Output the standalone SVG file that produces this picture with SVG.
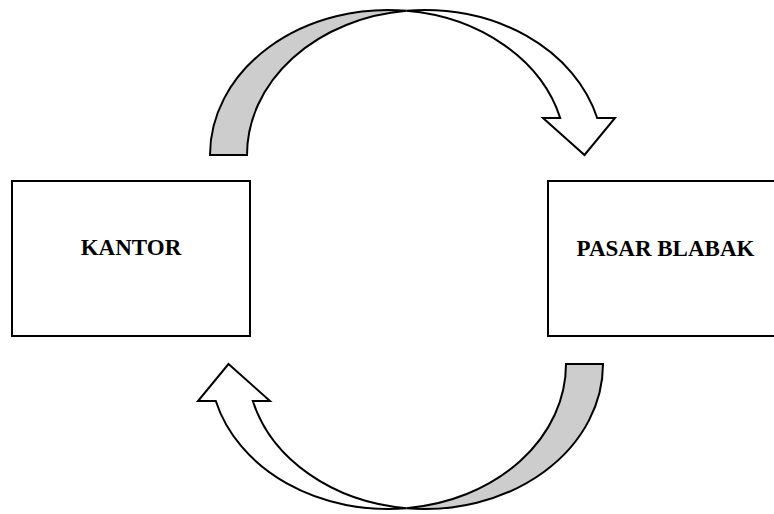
<svg xmlns="http://www.w3.org/2000/svg" xmlns:xlink="http://www.w3.org/1999/xlink" width="774" height="514" viewBox="0 0 774 514">
<style>
.box{fill:#fff;stroke:#000;stroke-width:2}
.lbl{font-family:"Liberation Serif","Times New Roman",serif;font-weight:bold;font-size:23px;fill:#000;text-anchor:middle}
.back{fill:#cdcdcd;stroke:#000;stroke-width:2;stroke-linejoin:miter}
.front{fill:#fff;stroke:#000;stroke-width:2;stroke-linejoin:miter}
</style>
<defs>
<g id="curved">
<path class="back" d="M210,155 A178,145 0 0 1 406.5,10.8 A178,145 0 0 0 247,155 Z"/>
<path class="front" d="M406.5,10.8 A178,145 0 0 1 597.2,118 L615,118 L584.5,155 L543,118 L560.2,118 A178,145 0 0 0 406.5,10.8 Z"/>
</g>
</defs>
<rect width="774" height="514" fill="#fff"/>
<g id="connectors">
<use id="arrow-top" xlink:href="#curved" href="#curved"/>
<use id="arrow-bottom" xlink:href="#curved" href="#curved" transform="rotate(180 406.5 259.5)"/>
</g>
<g id="kantor">
<rect class="box" x="12" y="181" width="238" height="155"/>
<text class="lbl" x="131" y="255">KANTOR</text>
</g>
<g id="pasar-blabak">
<rect class="box" x="548" y="181" width="238" height="155"/>
<text class="lbl" x="665.5" y="256">PASAR BLABAK</text>
</g>
</svg>
